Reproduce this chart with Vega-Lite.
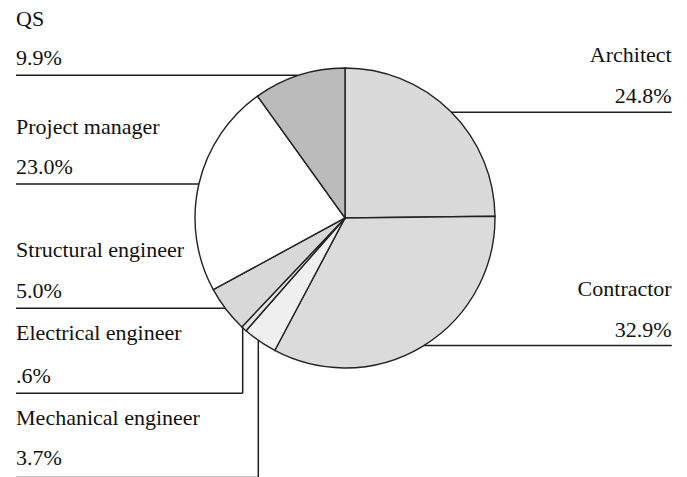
{
  "$schema": "https://vega.github.io/schema/vega-lite/v6.json",
  "width": 687,
  "height": 477,
  "autosize": {"type": "none"},
  "padding": 0,
  "background": "white",
  "config": {"view": {"stroke": null}},
  "datasets": {
    "shares": [
      {"role": "Architect", "share": 24.8, "order": 1},
      {"role": "Contractor", "share": 32.9, "order": 2},
      {"role": "Mechanical engineer", "share": 3.7, "order": 3},
      {"role": "Electrical engineer", "share": 0.6, "order": 4},
      {"role": "Structural engineer", "share": 5.0, "order": 5},
      {"role": "Project manager", "share": 23.0, "order": 6},
      {"role": "QS", "share": 9.9, "order": 7}
    ],
    "leaders": [
      {"role": "QS", "x": -2.193, "y": 0.951, "x2": -0.313, "y2": 0.951},
      {"role": "Project manager", "x": -2.193, "y": 0.227, "x2": -0.974, "y2": 0.227},
      {"role": "Structural engineer", "x": -2.193, "y": -0.602, "x2": -0.8, "y2": -0.602},
      {"role": "Electrical engineer", "x": -2.193, "y": -1.169, "x2": -0.682, "y2": -1.169},
      {"role": "Electrical engineer", "x": -0.682, "y": -1.169, "x2": -0.682, "y2": -0.731},
      {"role": "Mechanical engineer", "x": -2.193, "y": -1.731, "x2": -0.578, "y2": -1.731},
      {"role": "Mechanical engineer", "x": -0.578, "y": -1.731, "x2": -0.578, "y2": -0.816},
      {"role": "Architect", "x": 0.709, "y": 0.705, "x2": 2.178, "y2": 0.705},
      {"role": "Contractor", "x": 0.525, "y": -0.851, "x2": 2.178, "y2": -0.851}
    ],
    "labels": [
      {"text": "QS", "side": "left", "x": -2.193, "y": 1.28},
      {"text": "9.9%", "side": "left", "x": -2.193, "y": 1.02},
      {"text": "Project manager", "side": "left", "x": -2.193, "y": 0.558},
      {"text": "23.0%", "side": "left", "x": -2.193, "y": 0.293},
      {"text": "Structural engineer", "side": "left", "x": -2.193, "y": -0.258},
      {"text": "5.0%", "side": "left", "x": -2.193, "y": -0.535},
      {"text": "Electrical engineer", "side": "left", "x": -2.193, "y": -0.813},
      {"text": ".6%", "side": "left", "x": -2.193, "y": -1.098},
      {"text": "Mechanical engineer", "side": "left", "x": -2.193, "y": -1.38},
      {"text": "3.7%", "side": "left", "x": -2.193, "y": -1.647},
      {"text": "Architect", "side": "right", "x": 2.178, "y": 1.042},
      {"text": "24.8%", "side": "right", "x": 2.178, "y": 0.769},
      {"text": "Contractor", "side": "right", "x": 2.178, "y": -0.518},
      {"text": "32.9%", "side": "right", "x": 2.178, "y": -0.791}
    ]
  },
  "layer": [
    {
      "data": {"name": "shares"},
      "mark": {"type": "arc", "radius": 150, "stroke": "#222222", "strokeWidth": 1.4},
      "encoding": {
        "theta": {"field": "share", "type": "quantitative", "stack": true},
        "order": {"field": "order", "type": "quantitative"},
        "fill": {
          "field": "role",
          "type": "nominal",
          "legend": null,
          "scale": {
            "domain": ["Architect", "Contractor", "Mechanical engineer", "Electrical engineer", "Structural engineer", "Project manager", "QS"],
            "range": ["#dadada", "#dbdbdb", "#efefef", "#e4e4e4", "#d8d8d8", "#ffffff", "#bbbbbb"]
          }
        },
        "x": {"datum": 0, "type": "quantitative", "scale": {"domain": [-2.3, 2.28], "nice": false, "zero": false}, "axis": null},
        "y": {"datum": 0, "type": "quantitative", "scale": {"domain": [-1.727, 1.453], "nice": false, "zero": false}, "axis": null}
      }
    },
    {
      "data": {"name": "leaders"},
      "mark": {"type": "rule", "color": "#1e1e1e", "strokeWidth": 1.5},
      "encoding": {
        "x": {"field": "x", "type": "quantitative"},
        "y": {"field": "y", "type": "quantitative"},
        "x2": {"field": "x2"},
        "y2": {"field": "y2"}
      }
    },
    {
      "data": {"name": "labels"},
      "transform": [{"filter": "datum.side === 'left'"}],
      "mark": {"type": "text", "align": "left", "baseline": "alphabetic", "font": "Liberation Serif", "fontSize": 22, "color": "#111111"},
      "encoding": {
        "x": {"field": "x", "type": "quantitative"},
        "y": {"field": "y", "type": "quantitative"},
        "text": {"field": "text"}
      }
    },
    {
      "data": {"name": "labels"},
      "transform": [{"filter": "datum.side === 'right'"}],
      "mark": {"type": "text", "align": "right", "baseline": "alphabetic", "font": "Liberation Serif", "fontSize": 22, "color": "#111111"},
      "encoding": {
        "x": {"field": "x", "type": "quantitative"},
        "y": {"field": "y", "type": "quantitative"},
        "text": {"field": "text"}
      }
    }
  ]
}
